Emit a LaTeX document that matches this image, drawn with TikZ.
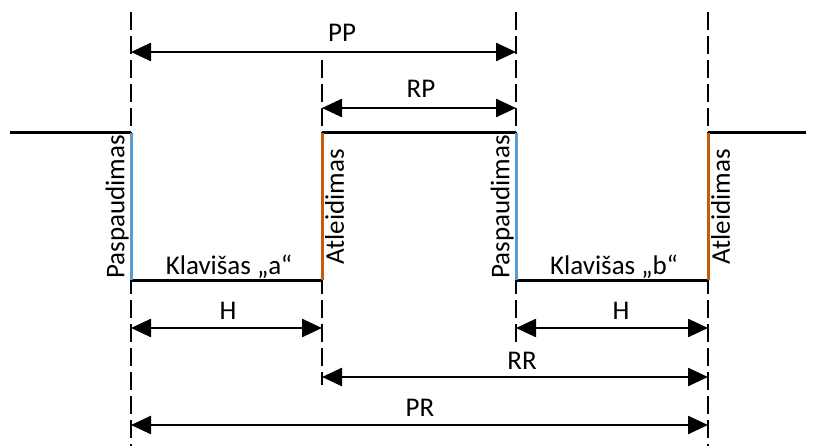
\documentclass[tikz,border=0pt]{standalone}
\usepackage{fontspec}
\setmainfont{Carlito}
\usetikzlibrary{arrows.meta}
\definecolor{pressblue}{HTML}{5B9BD5}
\definecolor{relorange}{HTML}{C55A11}
\begin{document}
\begin{tikzpicture}[x=1pt,y=-1pt,
  guide/.style={line width=2pt,dash pattern=on 18pt off 6pt},
  sig/.style={line width=3pt,line cap=butt},
  dim/.style={line width=2.5pt,{Triangle[length=20pt,width=18pt]}-{Triangle[length=20pt,width=18pt]}},
  lbl/.style={font=\fontsize{27}{32}\selectfont,inner sep=0pt},
  vlbl/.style={font=\fontsize{27}{32}\selectfont,inner sep=0pt,rotate=90}]
\useasboundingbox (0,0) rectangle (816,446);
% guide coordinates
\coordinate (g1t) at (131,12);  \coordinate (g1b) at (131,446);
\coordinate (g2t) at (322,60);  \coordinate (g2b) at (322,385);
\coordinate (g3t) at (516,12);  \coordinate (g3b) at (516,342);
\coordinate (g4t) at (708,12);  \coordinate (g4b) at (708,446);
\draw[guide] (g1t) -- (g1b);
\draw[guide] (g2t) -- (g2b);
\draw[guide] (g3t) -- (g3b);
\draw[guide] (g4t) -- (g4b);
% signal
\coordinate (s0) at (10,133);
\coordinate (s1h) at (131,133); \coordinate (s1l) at (131,280);
\coordinate (s2l) at (322,280); \coordinate (s2h) at (322,133);
\coordinate (s3h) at (516,133); \coordinate (s3l) at (516,280);
\coordinate (s4l) at (708,280); \coordinate (s4h) at (708,133);
\coordinate (s5) at (806,133);
\draw[sig] (s0) -- (s1h);
\draw[sig] (s1l) -- (s2l);
\draw[sig] (s2h) -- (s3h);
\draw[sig] (s3l) -- (s4l);
\draw[sig] (s4h) -- (s5);
\draw[sig,pressblue] (s1h) -- (s1l);
\draw[sig,relorange] (s2l) -- (s2h);
\draw[sig,pressblue] (s3h) -- (s3l);
\draw[sig,relorange] (s4l) -- (s4h);
% vertical labels
\node[vlbl,anchor=south] (p1) at (129,207) {Paspaudimas};
\node[vlbl,anchor=north] (a1) at (325,207) {Atleidimas};
\node[vlbl,anchor=south] (p2) at (514,207) {Paspaudimas};
\node[vlbl,anchor=north] (a2) at (711,207) {Atleidimas};
\node[lbl,anchor=base] (ka) at (229,274) {Klavišas „a“};
\node[lbl,anchor=base] (kb) at (614,274) {Klavišas „b“};
% dimension arrows
\coordinate (pp1) at (131,52);  \coordinate (pp2) at (516,52);
\coordinate (rp1) at (322,108); \coordinate (rp2) at (516,108);
\coordinate (h11) at (131,328); \coordinate (h12) at (322,328);
\coordinate (h21) at (516,328); \coordinate (h22) at (708,328);
\coordinate (rr1) at (322,377); \coordinate (rr2) at (708,377);
\coordinate (pr1) at (131,425); \coordinate (pr2) at (708,425);
\draw[dim] (pp1) -- (pp2);
\draw[dim] (rp1) -- (rp2);
\draw[dim] (h11) -- (h12);
\draw[dim] (h21) -- (h22);
\draw[dim] (rr1) -- (rr2);
\draw[dim] (pr1) -- (pr2);
\node[lbl,anchor=base] (lpp) at (342,42) {PP};
\node[lbl,anchor=base] (lrp) at (421,98) {RP};
\node[lbl,anchor=base] (lh1) at (228,319) {H};
\node[lbl,anchor=base] (lh2) at (621,319) {H};
\node[lbl,anchor=base] (lrr) at (522,369) {RR};
\node[lbl,anchor=base] (lpr) at (420,416) {PR};
\end{tikzpicture}
\end{document}
